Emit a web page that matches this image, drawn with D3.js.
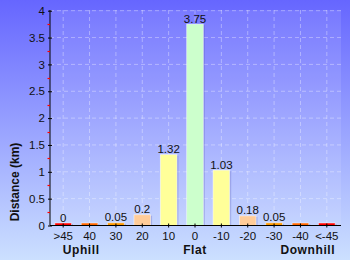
<!DOCTYPE html>
<html><head><meta charset="utf-8">
<script src="https://cdn.jsdelivr.net/npm/d3@7"></script>
<style>body{margin:0;padding:0;overflow:hidden}svg{display:block}text{font-family:"Liberation Sans",Arial,sans-serif}</style>
</head><body><div id="chart"></div>
<script>
const categories = [">45","40","30","20","10","0","-10","-20","-30","-40","<-45"];
const values = [0, 0, 0.05, 0.2, 1.32, 3.75, 1.03, 0.18, 0.05, 0, 0];
const valueLabels = ["0","","0.05","0.2","1.32","3.75","1.03","0.18","0.05","",""];
const barColors = ["#ff0000","#ff6600","#ff9900","#ffcc99","#ffff99","#ccffcc","#ffff99","#ffcc99","#ff9900","#ff6600","#ff0000"];
const yTicks = [0,0.5,1,1.5,2,2.5,3,3.5,4];
const yTickLabels = ["0","0.5","1","1.5","2","2.5","3","3.5","4"];
const minorTicks = [0.25,0.75,1.25,1.75,2.25,2.75,3.25,3.75];
const groupLabels = ["Uphill","Flat","Downhill"];
const groupAnchors = [">45","0","<-45"];

(function(){
const W=350,H=260;
const svg=d3.select("#chart").append("svg").attr("width",W).attr("height",H);
const defs=svg.append("defs");
const g1=defs.append("linearGradient").attr("id","bg").attr("x1",0).attr("y1",0).attr("x2",0).attr("y2",1);
g1.append("stop").attr("offset","0").attr("stop-color","#6666ff");
g1.append("stop").attr("offset","1").attr("stop-color","#cce0ff");
svg.append("rect").attr("width",W).attr("height",H).attr("fill","url(#bg)");

const pL=50,pR=341,pT=10,pB=225.5;
const x=d3.scaleBand().domain(categories).range([pL,340]).paddingInner(0.37).paddingOuter(0.185);
const y=d3.scaleLinear().domain([0,4]).range([pB,10.7]);
const xc=d=>x(d)+x.bandwidth()/2;

svg.append("rect").attr("x",pL).attr("y",pT).attr("width",pR-pL).attr("height",pB-pT)
  .attr("fill","#ffffff").attr("fill-opacity",0.1);

svg.append("g").selectAll("line").data(yTicks).join("line")
  .attr("x1",pL).attr("x2",pR).attr("y1",d=>y(d)).attr("y2",d=>y(d))
  .attr("stroke","#ffffff").attr("stroke-opacity",0.35).attr("stroke-dasharray","4,3");
svg.append("g").selectAll("line").data(categories).join("line")
  .attr("x1",xc).attr("x2",xc).attr("y1",pT).attr("y2",pB)
  .attr("stroke","#ffffff").attr("stroke-opacity",0.35).attr("stroke-dasharray","4,3");

const bars=svg.append("g");
bars.selectAll("rect.sh").data(values).join("rect").attr("class","sh")
  .attr("x",(d,i)=>x(categories[i])+1.5).attr("width",x.bandwidth())
  .attr("y",d=>Math.min(y(d),pB-2.5)+1).attr("height",d=>Math.max(pB-y(d),2.5)-1)
  .attr("fill","#4444aa").attr("fill-opacity",0.25);
bars.selectAll("rect.b").data(values).join("rect").attr("class","b")
  .attr("x",(d,i)=>x(categories[i])).attr("width",x.bandwidth())
  .attr("y",d=>Math.min(y(d),pB-2.5)).attr("height",d=>Math.max(pB-y(d),2.5))
  .attr("fill",(d,i)=>barColors[i]).attr("stroke","#ffffff").attr("stroke-opacity",0.6).attr("stroke-width",0.8);

svg.append("g").selectAll("text").data(values).join("text")
  .attr("x",(d,i)=>xc(categories[i])).attr("y",d=>Math.min(y(d),pB-2.5)-1.5)
  .attr("text-anchor","middle").attr("font-size",11.5).attr("fill","#111")
  .text((d,i)=>valueLabels[i]);

const yAxis=d3.axisLeft(y).tickValues(yTicks).tickFormat((d,i)=>yTickLabels[i]).tickSize(2).tickPadding(3);
const ya=svg.append("g").attr("transform",`translate(${pL},0)`).call(yAxis);
ya.select(".domain").attr("stroke","#000").attr("d",`M0,${pT}V${pB}`);
ya.selectAll(".tick line").attr("x1",-2).attr("x2",2).attr("stroke","#000");
ya.selectAll(".tick text").attr("font-size",11.5).attr("fill","#111").attr("font-family","Liberation Sans, Arial, sans-serif");
svg.append("g").selectAll("line").data(minorTicks).join("line")
  .attr("x1",pL-2.5).attr("x2",pL).attr("y1",d=>Math.round(y(d))+0.5).attr("y2",d=>Math.round(y(d))+0.5)
  .attr("stroke","#ff0000").attr("stroke-width",1.2);

const xAxis=d3.axisBottom(x).tickSize(2).tickPadding(4);
const xa=svg.append("g").attr("transform",`translate(0,${pB})`).call(xAxis);
xa.select(".domain").attr("stroke","#000").attr("d",`M${pL},0H${pR}`);
xa.selectAll(".tick line").attr("y1",-2).attr("y2",2).attr("stroke","#000");
xa.selectAll(".tick text").attr("font-size",11.5).attr("fill","#111").attr("font-family","Liberation Sans, Arial, sans-serif");

svg.append("text").attr("transform","translate(19,182) rotate(-90)").attr("text-anchor","middle")
  .attr("font-size",12).attr("font-weight","bold").attr("fill","#111").text("Distance (km)");

const gx=[xc(groupAnchors[0])+18, xc(groupAnchors[1]), xc(groupAnchors[2])-19];
svg.append("g").selectAll("text").data(groupLabels).join("text")
  .attr("x",(d,i)=>gx[i]).attr("y",254).attr("text-anchor","middle").attr("letter-spacing",0.6)
  .attr("font-size",12).attr("font-weight","bold").attr("fill","#111").text(d=>d);
})();
</script></body></html>
